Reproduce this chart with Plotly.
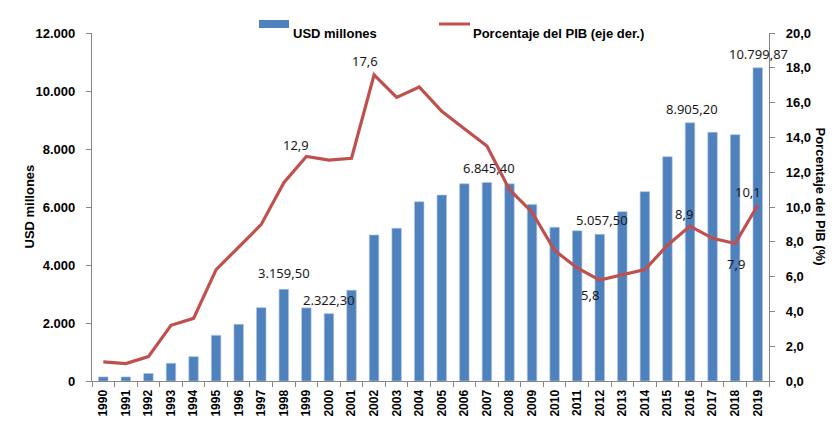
import plotly.graph_objects as go

# Inversión / valores anuales
years = [str(y) for y in range(1990, 2020)]
usd_millones = [140, 140, 260, 610, 840, 1575, 1955, 2530, 3159.50, 2520,
                2322.30, 3130, 5034, 5265, 6180, 6410, 6800, 6845.40, 6800, 6090,
                5300, 5180, 5057.50, 5840, 6530, 7735, 8905.20, 8575, 8495, 10799.87]
pct_pib = [1.1, 1.0, 1.4, 3.2, 3.6, 6.4, 7.7, 9.0, 11.4, 12.9,
           12.7, 12.8, 17.6, 16.3, 16.9, 15.5, 14.5, 13.5, 11.0, 9.7,
           7.5, 6.5, 5.8, 6.1, 6.4, 7.8, 8.9, 8.2, 7.9, 10.1]

# puntos con etiqueta (año, desplazamiento x, desplazamiento y)
bar_labels = [("1998", 0, 16), ("2000", 0, 14), ("2007", 2, 14), ("2012", 2, 14),
              ("2016", 2, 14), ("2019", 1, 14)]
line_labels = [("1999", -10, 12), ("2002", -9, 14), ("2012", -10, -15),
               ("2016", -6, 12), ("2018", 1, -20), ("2019", -10, 13)]

BLUE = "#4F81BD"
RED = "#C0504D"
AXIS = "#868686"
FONT = "Liberation Sans"


def fmt(v, dec):
    s = f"{v:,.{dec}f}"
    return s.replace(",", "X").replace(".", ",").replace("X", ".")


fig = go.Figure()
fig.add_trace(go.Bar(x=years, y=usd_millones, name="USD millones",
                     marker=dict(color=BLUE, line=dict(color="#A9C4E6", width=0.6)),
                     width=0.42))
fig.add_trace(go.Scatter(x=years, y=pct_pib, name="Porcentaje del PIB (eje der.)",
                         yaxis="y2", mode="lines",
                         line=dict(color=RED, width=3.2)))

lab_font = dict(family="Noto Sans", size=13, color="#1a1a1a")
ann = []
for yr, dx, dy in bar_labels:
    i = years.index(yr)
    v = usd_millones[i]
    ann.append(dict(x=i, y=v, xref="x", yref="y", text=fmt(v, 2), showarrow=False,
                    xshift=dx, yshift=dy, font=lab_font))
for yr, dx, dy in line_labels:
    i = years.index(yr)
    v = pct_pib[i]
    ann.append(dict(x=i, y=v, xref="x", yref="y2", text=fmt(v, 1), showarrow=False,
                    xshift=dx, yshift=dy, font=lab_font))

bold = dict(family=FONT, size=13, color="black", weight="bold")
# títulos de ejes
ann.append(dict(x=(19 - 92) / 677, y=0.5, xref="paper", yref="paper", text="USD millones",
                textangle=-90, showarrow=False, font=bold))
ann.append(dict(x=(829 - 92) / 677, y=(381 - 196) / 348, xref="paper", yref="paper",
                text="Porcentaje del PIB (%)",
                textangle=90, showarrow=False, font=bold))

# leyenda dibujada a mano
ann.append(dict(x=(291 - 92) / 677, y=(381 - 24) / 348, xref="paper", yref="paper",
                text="USD millones", xanchor="left", showarrow=False, font=bold))
ann.append(dict(x=(471 - 92) / 677, y=(381 - 24) / 348, xref="paper", yref="paper",
                text="Porcentaje del PIB (eje der.)", xanchor="left", showarrow=False, font=bold))
shapes = [
    dict(type="rect", xref="paper", yref="paper",
         x0=(259 - 92) / 677, x1=(289 - 92) / 677,
         y0=(381 - 28) / 348, y1=(381 - 20) / 348,
         fillcolor=BLUE, line=dict(width=0)),
    dict(type="line", xref="paper", yref="paper",
         x0=(439 - 92) / 677, x1=(470 - 92) / 677,
         y0=(381 - 24) / 348, y1=(381 - 24) / 348,
         line=dict(color=RED, width=3)),
]

tickfont = dict(family=FONT, size=13, color="black", weight="bold")
# la página deja 8 px de margen en el body, se compensa aquí
fig.update_layout(
    width=828, height=415,
    margin=dict(l=84, r=67, t=25, b=42),
    paper_bgcolor="white", plot_bgcolor="white",
    separators=",.",
    showlegend=False,
    annotations=ann,
    shapes=shapes,
    xaxis=dict(type="category", range=[-0.5, len(years) - 0.5], tickangle=-90,
               tickfont=dict(family=FONT, size=12, color="black", weight="bold"),
               showline=True, linecolor=AXIS, linewidth=1.2, ticks="outside", tickson="boundaries",
               ticklen=5, tickcolor=AXIS, showgrid=False, automargin=False,
               ticklabelstandoff=3),
    yaxis=dict(range=[0, 12000], dtick=2000, tickformat=",.0f", tickfont=tickfont,
               showline=True, linecolor=AXIS, linewidth=1.2, ticks="outside", ticklen=5,
               tickcolor=AXIS, showgrid=False, zeroline=False, automargin=False,
               ticklabelstandoff=8),
    yaxis2=dict(range=[0, 20], dtick=2, tickformat=".1f", tickfont=tickfont, overlaying="y",
                side="right", showline=True, linecolor=AXIS, linewidth=1.2, ticks="outside",
                ticklen=5, tickcolor=AXIS, showgrid=False, zeroline=False, automargin=False,
                ticklabelstandoff=8),
)

fig.write_html("out.html")
